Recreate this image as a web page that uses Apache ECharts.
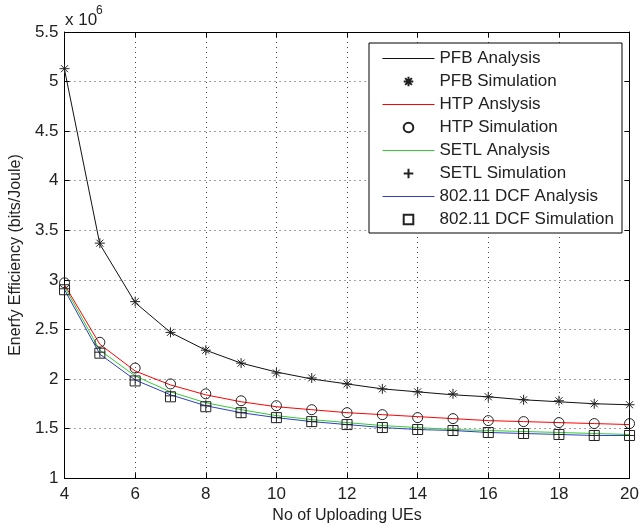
<!DOCTYPE html>
<html>
<head>
<meta charset="utf-8">
<script src="https://cdn.jsdelivr.net/npm/echarts@6/dist/echarts.min.js"></script>
<style>
  html, body { margin: 0; padding: 0; background: #fff; }
  #main { width: 642px; height: 529px; }
</style>
</head>
<body>
<div id="main"></div>
<script>
// values in units of 10^6 bits/Joule
const uploadingUEs = [4, 5, 6, 7, 8, 9, 10, 11, 12, 13, 14, 15, 16, 17, 18, 19, 20]
const pfbAnalysis = [5.12, 3.36, 2.77, 2.47, 2.29, 2.16, 2.07, 2.00, 1.95, 1.90, 1.87, 1.84, 1.82, 1.79, 1.77, 1.75, 1.74]
const pfbSimulation = [5.13, 3.37, 2.78, 2.47, 2.29, 2.16, 2.06, 2.01, 1.95, 1.90, 1.87, 1.85, 1.82, 1.79, 1.78, 1.75, 1.74]
const htpAnalysis = [2.95, 2.35, 2.08, 1.94, 1.84, 1.77, 1.72, 1.69, 1.66, 1.64, 1.62, 1.60, 1.58, 1.57, 1.56, 1.55, 1.54]
const htpSimulation = [2.97, 2.37, 2.11, 1.95, 1.85, 1.78, 1.73, 1.69, 1.66, 1.64, 1.61, 1.60, 1.58, 1.57, 1.56, 1.55, 1.55]
const setlAnalysis = [2.93, 2.29, 2.03, 1.87, 1.76, 1.69, 1.63, 1.59, 1.56, 1.53, 1.51, 1.49, 1.48, 1.47, 1.46, 1.45, 1.44]
const setlSimulation = [2.91, 2.27, 1.99, 1.83, 1.73, 1.66, 1.61, 1.57, 1.54, 1.51, 1.49, 1.48, 1.46, 1.45, 1.44, 1.43, 1.43]
const dcfAnalysis = [2.90, 2.25, 1.99, 1.84, 1.73, 1.66, 1.61, 1.57, 1.54, 1.51, 1.49, 1.48, 1.46, 1.45, 1.44, 1.43, 1.43]
const dcfSimulation = [2.90, 2.26, 1.98, 1.82, 1.72, 1.66, 1.61, 1.57, 1.54, 1.51, 1.49, 1.48, 1.46, 1.45, 1.44, 1.43, 1.43]

const font = 'Liberation Sans, Arial, Helvetica, sans-serif'
const starPath = 'path://M0,-1L0,1M-1,0L1,0M-0.7,-0.7L0.7,0.7M-0.7,0.7L0.7,-0.7'
const plusPath = 'path://M0,-1L0,1M-1,0L1,0'

const pairs = (ys) => uploadingUEs.map((x, i) => [x, ys[i]])

const analysis = (name, ys, color) => ({
  name,
  type: 'line',
  data: pairs(ys),
  symbol: 'none',
  lineStyle: { color, width: 1 },
  itemStyle: { color },
  z: 2
})

const simulation = (name, ys, symbol, size) => ({
  name,
  type: 'line',
  data: pairs(ys),
  symbol,
  symbolSize: size,
  showAllSymbol: true,
  lineStyle: { width: 0, opacity: 0 },
  itemStyle: { color: 'rgba(0,0,0,0)', borderColor: '#222', borderWidth: 1 },
  z: 3
})

const chart = echarts.init(document.getElementById('main'))

const axisCommon = {
  axisLine: { show: true, lineStyle: { color: '#000', width: 1 } },
  axisTick: { show: true, inside: true, length: 5, lineStyle: { color: '#000' } }
}

const gridDots = { show: true, lineStyle: { color: '#444', type: [1, 4], width: 1 } }

const lineItem = (name) => ({ name, itemStyle: { opacity: 0 } })

const option = {
  backgroundColor: '#fff',
  animation: false,
  grid: { left: 64, right: 10, top: 32, bottom: 47 },
  xAxis: [{
    type: 'value',
    min: 4,
    max: 20,
    interval: 2,
    name: 'No of Uploading UEs',
    nameLocation: 'middle',
    nameGap: 23,
    nameTextStyle: { fontFamily: font, fontSize: 16, color: '#222' },
    axisLabel: { fontFamily: font, fontSize: 17, color: '#222', margin: 8 },
    splitLine: gridDots,
    ...axisCommon
  }, {
    type: 'value',
    position: 'top',
    min: 4,
    max: 20,
    interval: 2,
    axisLabel: { show: false },
    splitLine: { show: false },
    ...axisCommon
  }],
  yAxis: [{
    type: 'value',
    min: 1,
    max: 5.5,
    interval: 0.5,
    name: 'Enerfy Efficiency (bits/Joule)',
    nameLocation: 'middle',
    nameGap: 36,
    nameTextStyle: { fontFamily: font, fontSize: 16, color: '#222' },
    axisLabel: { fontFamily: font, fontSize: 17, color: '#222', margin: 6 },
    splitLine: gridDots,
    ...axisCommon
  }, {
    type: 'value',
    position: 'right',
    min: 1,
    max: 5.5,
    interval: 0.5,
    axisLabel: { show: false },
    splitLine: { show: false },
    ...axisCommon
  }],
  legend: {
    orient: 'vertical',
    left: 369,
    top: 43,
    padding: [7, 8, 5, 13],
    itemWidth: 52,
    itemHeight: 12,
    itemGap: 6,
    backgroundColor: '#fff',
    borderColor: '#000',
    borderWidth: 1,
    borderRadius: 0,
    lineStyle: { width: 1 },
    textStyle: { fontFamily: font, fontSize: 17, color: '#222', lineHeight: 17 },
    data: [
      lineItem('PFB Analysis'), 'PFB Simulation',
      lineItem('HTP Anslysis'), 'HTP Simulation',
      lineItem('SETL Analysis'), 'SETL Simulation',
      lineItem('802.11 DCF Analysis'), '802.11 DCF Simulation'
    ]
  },
  graphic: [
    { type: 'text', left: 65, top: 12, style: { text: 'x 10', fontFamily: font, fontSize: 17, fill: '#222' } },
    { type: 'text', left: 96, top: 5, style: { text: '6', fontFamily: font, fontSize: 12, fill: '#222' } }
  ],
  series: [
    analysis('PFB Analysis', pfbAnalysis, '#111'),
    simulation('PFB Simulation', pfbSimulation, starPath, 10),
    analysis('HTP Anslysis', htpAnalysis, '#ff0000'),
    simulation('HTP Simulation', htpSimulation, 'circle', 10),
    analysis('SETL Analysis', setlAnalysis, '#3c3'),
    simulation('SETL Simulation', setlSimulation, plusPath, 11),
    analysis('802.11 DCF Analysis', dcfAnalysis, '#3040c0'),
    simulation('802.11 DCF Simulation', dcfSimulation, 'rect', 10)
  ]
}

chart.setOption(option)
</script>
</body>
</html>
